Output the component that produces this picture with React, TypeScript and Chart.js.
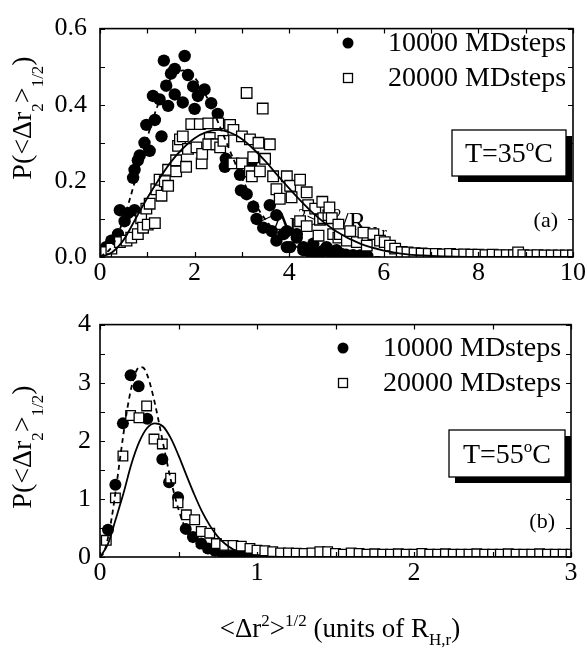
import React, { useEffect, useRef } from "react";
import { Chart, registerables } from "chart.js";

Chart.register(...registerables);

const SERIF = "'Liberation Serif', 'Times New Roman', Times, serif";

// ---------------- Panel (a): T = 35 °C ----------------
const a10000: [number, number][] = [
  [0.06, 0.013], [0.13, 0.026], [0.24, 0.043], [0.38, 0.06], [0.42, 0.123], [0.52, 0.094],
  [0.59, 0.115], [0.73, 0.123], [0.7, 0.208], [0.73, 0.229], [0.8, 0.254], [0.84, 0.267],
  [0.94, 0.3], [0.98, 0.347], [1.05, 0.279], [1.12, 0.423], [1.16, 0.36], [1.26, 0.414],
  [1.3, 0.317], [1.35, 0.516], [1.4, 0.45], [1.44, 0.397], [1.5, 0.482], [1.58, 0.494],
  [1.58, 0.427], [1.75, 0.406], [1.79, 0.528], [1.86, 0.478], [1.97, 0.448], [2.0, 0.389],
  [2.07, 0.423], [2.21, 0.44], [2.35, 0.404], [2.49, 0.376], [2.66, 0.258], [2.64, 0.237],
  [2.96, 0.216], [2.98, 0.175], [3.1, 0.165], [3.2, 0.246], [3.24, 0.132], [3.31, 0.1],
  [3.45, 0.077], [3.59, 0.136], [3.73, 0.11], [3.63, 0.068], [3.88, 0.06], [3.95, 0.068],
  [3.73, 0.043], [3.95, 0.026], [4.02, 0.026], [4.16, 0.051], [4.16, 0.06], [4.3, 0.026],
  [4.3, 0.018], [4.51, 0.035], [4.79, 0.026], [5.0, 0.018], [4.45, 0.012], [4.6, 0.01],
  [4.7, 0.015], [4.9, 0.008], [5.1, 0.008], [5.2, 0.006], [5.35, 0.005], [5.5, 0.004],
  [5.65, 0.003],
];

const a20000: [number, number][] = [
  [0.13, 0.013], [0.24, 0.022], [0.42, 0.039], [0.56, 0.043], [0.66, 0.051], [0.8, 0.06],
  [0.87, 0.102], [0.91, 0.077], [1.01, 0.085], [1.16, 0.089], [0.98, 0.127], [1.05, 0.14],
  [1.19, 0.178], [1.3, 0.161], [1.26, 0.203], [1.37, 0.199], [1.44, 0.187], [1.44, 0.229],
  [1.61, 0.225], [1.61, 0.254], [1.82, 0.237], [1.65, 0.292], [1.69, 0.309], [1.75, 0.317],
  [1.86, 0.284], [1.93, 0.349], [2.04, 0.288], [2.11, 0.349], [2.15, 0.246], [2.16, 0.271],
  [2.29, 0.351], [2.32, 0.313], [2.29, 0.296], [2.46, 0.296], [2.5, 0.351], [2.54, 0.288],
  [2.61, 0.305], [2.75, 0.347], [2.82, 0.334], [2.82, 0.246], [3.0, 0.317], [3.0, 0.246],
  [3.1, 0.431], [3.17, 0.309], [3.17, 0.225], [3.24, 0.262], [3.21, 0.212], [3.35, 0.3],
  [3.38, 0.225], [3.44, 0.39], [3.49, 0.258], [3.59, 0.296], [3.66, 0.212], [3.73, 0.178],
  [3.8, 0.153], [3.95, 0.212], [4.02, 0.187], [4.05, 0.157], [4.23, 0.203], [4.23, 0.094],
  [4.37, 0.17], [4.37, 0.081], [4.4, 0.136], [4.55, 0.127], [4.62, 0.056], [4.65, 0.098],
  [4.7, 0.145], [4.72, 0.102], [4.83, 0.11], [4.85, 0.13], [4.9, 0.102], [4.93, 0.06],
  [5.04, 0.085], [5.04, 0.051], [5.07, 0.06], [5.22, 0.043], [5.29, 0.068], [5.43, 0.039],
  [5.57, 0.064], [5.64, 0.03], [5.78, 0.06], [5.92, 0.043], [6.02, 0.039], [6.13, 0.03],
  [6.24, 0.022], [6.38, 0.013], [6.5, 0.012], [6.65, 0.01], [6.8, 0.009], [6.95, 0.008],
  [7.1, 0.008], [7.25, 0.007], [7.4, 0.008], [7.55, 0.006], [7.7, 0.007], [7.85, 0.006],
  [8.0, 0.006], [8.15, 0.005], [8.3, 0.006], [8.45, 0.005], [8.6, 0.005], [8.75, 0.005],
  [8.84, 0.012], [8.95, 0.005], [9.1, 0.004], [9.25, 0.005], [9.4, 0.004], [9.55, 0.004],
  [9.7, 0.004], [9.85, 0.004], [10.0, 0.004],
];

const aFitDashed: [number, number][] = [
  [0, 0], [0.25, 0.027], [0.5, 0.1], [0.75, 0.204], [1.0, 0.314], [1.25, 0.408], [1.5, 0.469],
  [1.75, 0.49], [2.0, 0.471], [2.25, 0.422], [2.5, 0.353], [2.75, 0.278], [3.0, 0.207],
  [3.25, 0.146], [3.5, 0.098], [3.75, 0.062], [4.0, 0.037], [4.5, 0.012], [5.0, 0.003],
  [5.5, 0.0007], [6.0, 0],
];

const aFitSolid: [number, number][] = [
  [0, 0], [0.25, 0.012], [0.5, 0.045], [0.75, 0.1], [1.0, 0.155], [1.25, 0.205], [1.5, 0.25],
  [1.75, 0.285], [2.0, 0.312], [2.25, 0.328], [2.5, 0.334], [2.75, 0.327], [3.0, 0.31],
  [3.25, 0.283], [3.5, 0.251], [3.75, 0.215], [4.0, 0.18], [4.5, 0.116], [5.0, 0.067],
  [5.5, 0.035], [6.0, 0.017], [6.5, 0.007], [7.0, 0.003], [8.0, 0], [10.0, 0],
];

const aXTickLabels = [0, 2, 4, 6, 8, 10];
const aYTickLabels = [0.0, 0.2, 0.4, 0.6];

// ---------------- Panel (b): T = 55 °C ----------------
const b10000: [number, number][] = [
  [0.051, 0.467], [0.098, 1.244], [0.146, 2.3], [0.195, 3.128], [0.246, 2.94], [0.301, 2.38],
  [0.397, 1.683], [0.44, 1.288], [0.497, 1.03], [0.546, 0.484], [0.592, 0.343], [0.645, 0.231],
  [0.688, 0.147], [0.73, 0.118], [0.77, 0.09], [0.81, 0.07], [0.85, 0.05], [0.9, 0.04],
  [0.95, 0.03], [1.0, 0.02],
];

const b20000: [number, number][] = [
  [0.04, 0.287], [0.098, 1.018], [0.146, 1.738], [0.195, 2.435], [0.248, 2.397], [0.297, 2.6],
  [0.344, 2.03], [0.397, 1.946], [0.45, 1.356], [0.497, 0.934], [0.55, 0.726], [0.603, 0.641],
  [0.645, 0.439], [0.699, 0.41], [0.741, 0.231], [0.794, 0.2], [0.847, 0.2], [0.9, 0.186],
  [0.955, 0.147], [1.0, 0.118], [1.05, 0.107], [1.1, 0.09], [1.15, 0.07], [1.2, 0.07],
  [1.25, 0.065], [1.3, 0.06], [1.35, 0.07], [1.4, 0.09], [1.45, 0.09], [1.5, 0.06],
  [1.55, 0.05], [1.6, 0.07], [1.65, 0.06], [1.7, 0.05], [1.75, 0.055], [1.8, 0.05],
  [1.85, 0.05], [1.9, 0.055], [1.95, 0.05], [2.0, 0.05], [2.05, 0.06], [2.1, 0.05],
  [2.15, 0.05], [2.2, 0.055], [2.25, 0.05], [2.3, 0.05], [2.35, 0.05], [2.4, 0.055],
  [2.45, 0.05], [2.5, 0.05], [2.55, 0.05], [2.6, 0.055], [2.65, 0.05], [2.7, 0.05],
  [2.75, 0.05], [2.8, 0.055], [2.85, 0.05], [2.9, 0.05], [2.95, 0.05], [3.0, 0.05],
];

const bFitDashed: [number, number][] = [
  [0, 0], [0.025, 0.08], [0.05, 0.32], [0.075, 0.68], [0.1, 1.14], [0.125, 1.64], [0.15, 2.13],
  [0.175, 2.57], [0.2, 2.92], [0.225, 3.16], [0.25, 3.27], [0.275, 3.26], [0.3, 3.14],
  [0.325, 2.92], [0.35, 2.64], [0.375, 2.32], [0.4, 1.98], [0.45, 1.34], [0.5, 0.82],
  [0.55, 0.45], [0.6, 0.23], [0.65, 0.11], [0.7, 0.046], [0.75, 0.018], [0.8, 0.006], [0.9, 0],
];

const bFitSolid: [number, number][] = [
  [0, 0], [0.05, 0.22], [0.1, 0.65], [0.15, 1.1], [0.2, 1.6], [0.25, 1.98], [0.3, 2.22],
  [0.35, 2.3], [0.4, 2.25], [0.45, 2.05], [0.5, 1.75], [0.55, 1.41], [0.6, 1.08], [0.65, 0.78],
  [0.7, 0.54], [0.75, 0.35], [0.8, 0.22], [0.85, 0.13], [0.9, 0.075], [1.0, 0.02], [1.1, 0.005],
  [1.2, 0.001], [3.0, 0],
];

const bXTickLabels = [0, 1, 2, 3];
const bYTickLabels = [0, 1, 2, 3, 4];

const LEGEND_1 = "10000 MDsteps";
const LEGEND_2 = "20000 MDsteps";

// ---------------- rich text helpers ----------------
type Seg = { t: string; k?: "sup" | "sub" };

const segFont = (size: number, k?: string) =>
  `${k ? Math.round(size * 0.62) : size}px ${SERIF}`;

function segsWidth(ctx: CanvasRenderingContext2D, segs: Seg[], size: number) {
  let w = 0;
  for (const s of segs) {
    ctx.font = segFont(size, s.k);
    w += ctx.measureText(s.t).width;
  }
  return w;
}

function drawSegs(
  ctx: CanvasRenderingContext2D,
  segs: Seg[],
  x: number,
  y: number,
  size: number,
  supDy = -0.4,
  subDy = 0.3
) {
  ctx.textAlign = "left";
  ctx.textBaseline = "alphabetic";
  let cx = x;
  for (const s of segs) {
    ctx.font = segFont(size, s.k);
    const dy = s.k === "sup" ? supDy * size : s.k === "sub" ? subDy * size : 0;
    ctx.fillText(s.t, cx, y + dy);
    cx += ctx.measureText(s.t).width;
  }
}

const Y_TITLE: Seg[] = [
  { t: "P(<Δr" }, { t: "2", k: "sup" }, { t: ">" }, { t: "1/2", k: "sup" }, { t: ")" },
];
const X_TITLE: Seg[] = [
  { t: "<Δr" }, { t: "2", k: "sup" }, { t: ">" }, { t: "1/2", k: "sup" },
  { t: " (units of R" }, { t: "H,r", k: "sub" }, { t: ")" },
];
const HIDDEN_LABEL_PRE: Seg[] = [{ t: "<Δr" }, { t: "2", k: "sup" }, { t: ">" }];
const HIDDEN_LABEL_POST: Seg[] = [{ t: "1/2", k: "sup" }, { t: "/R" }, { t: "H,r", k: "sub" }];

type PanelCfg = {
  height: number;
  padRight: number;
  xAxisH: number;
  xMax: number;
  xStep: number;
  yMax: number;
  yStep: number;
  xLabels: number[];
  yLabels: number[];
  yDigits: number;
  xTickPad: number;
  yTickPad: number;
  circles: [number, number][];
  squares: [number, number][];
  dashed: [number, number][];
  solid: [number, number][];
  circleR: number;
  squareR: number;
  legend: { mx: number; y1: number; y2: number; tx: number };
  box: { x: number; y: number; w: number; h: number; temp: string };
  letter: { t: string; x: number; y: number };
  yTitle: { x: number; y: number };
  xTitle?: { x: number; y: number };
  hidden?: { x: number; y: number };
};

function makeDecor(p: PanelCfg) {
  return {
    id: "decor",
    beforeDatasetsDraw(chart: any) {
      if (!p.hidden) return;
      const ctx: CanvasRenderingContext2D = chart.ctx;
      ctx.save();
      ctx.fillStyle = "#000";
      const pre = segsWidth(ctx, HIDDEN_LABEL_PRE, 26);
      drawSegs(ctx, HIDDEN_LABEL_PRE, p.hidden.x - pre, p.hidden.y, 26);
      drawSegs(ctx, HIDDEN_LABEL_POST, p.hidden.x, p.hidden.y, 26);
      ctx.restore();
    },
    afterDraw(chart: any) {
      const ctx: CanvasRenderingContext2D = chart.ctx;
      const a = chart.chartArea;
      const xs = chart.scales.x;
      const ys = chart.scales.y;
      ctx.save();
      ctx.strokeStyle = "#000";
      ctx.fillStyle = "#000";
      // ticks (inward, all four sides)
      ctx.lineWidth = 1.2;
      ctx.beginPath();
      for (const t of xs.ticks) {
        const px = Math.round(xs.getPixelForValue(t.value)) + 0.5;
        ctx.moveTo(px, a.bottom);
        ctx.lineTo(px, a.bottom - 5);
        ctx.moveTo(px, a.top);
        ctx.lineTo(px, a.top + 5);
      }
      for (const t of ys.ticks) {
        const py = Math.round(ys.getPixelForValue(t.value)) + 0.5;
        ctx.moveTo(a.left, py);
        ctx.lineTo(a.left + 5, py);
        ctx.moveTo(a.right, py);
        ctx.lineTo(a.right - 5, py);
      }
      ctx.stroke();
      // frame
      ctx.lineWidth = 1.6;
      ctx.strokeRect(a.left, a.top, a.right - a.left, a.bottom - a.top);

      // legend
      const L = p.legend;
      ctx.beginPath();
      ctx.arc(L.mx, L.y1, 5.5, 0, Math.PI * 2);
      ctx.fill();
      ctx.fillStyle = "#fff";
      ctx.lineWidth = 1.3;
      ctx.fillRect(L.mx - 4.5, L.y2 - 4.5, 9, 9);
      ctx.strokeRect(L.mx - 4.5, L.y2 - 4.5, 9, 9);
      ctx.fillStyle = "#000";
      ctx.font = `28px ${SERIF}`;
      ctx.textAlign = "left";
      ctx.textBaseline = "middle";
      ctx.fillText(LEGEND_1, L.tx, L.y1 + 1);
      ctx.fillText(LEGEND_2, L.tx, L.y2 + 1);

      // temperature box with shadow
      const B = p.box;
      ctx.fillStyle = "#000";
      ctx.fillRect(B.x + 6, B.y + 6, B.w, B.h);
      ctx.fillStyle = "#fff";
      ctx.fillRect(B.x, B.y, B.w, B.h);
      ctx.lineWidth = 1.3;
      ctx.strokeRect(B.x, B.y, B.w, B.h);
      ctx.fillStyle = "#000";
      const tSegs: Seg[] = [{ t: "T=" + B.temp }, { t: "o", k: "sup" }, { t: "C" }];
      const tw = segsWidth(ctx, tSegs, 28);
      drawSegs(ctx, tSegs, B.x + (B.w - tw) / 2, B.y + B.h / 2 + 9, 28, -0.38);

      // panel letter
      ctx.font = `22px ${SERIF}`;
      ctx.textAlign = "right";
      ctx.textBaseline = "middle";
      ctx.fillText(p.letter.t, p.letter.x, p.letter.y);

      // y title (rotated)
      ctx.save();
      ctx.translate(p.yTitle.x, p.yTitle.y);
      ctx.rotate(-Math.PI / 2);
      const yw = segsWidth(ctx, Y_TITLE, 28);
      drawSegs(ctx, Y_TITLE, -yw / 2, 9, 28, 0.42);
      ctx.restore();

      // x title
      if (p.xTitle) {
        const xw = segsWidth(ctx, X_TITLE, 27);
        drawSegs(ctx, X_TITLE, p.xTitle.x - xw / 2, p.xTitle.y, 27, -0.4, 0.3);
      }
      ctx.restore();
    },
  };
}

function Panel({ cfg }: { cfg: PanelCfg }) {
  const ref = useRef<HTMLCanvasElement | null>(null);
  useEffect(() => {
    if (!ref.current) return;
    const has = (arr: number[], v: number) => arr.some((a) => Math.abs(a - v) < 1e-6);
    const chart = new Chart(ref.current, {
      type: "scatter",
      data: {
        datasets: [
          {
            data: cfg.solid.map(([x, y]) => ({ x, y })),
            showLine: true,
            borderColor: "#000",
            borderWidth: 1.8,
            pointRadius: 0,
            tension: 0.4,
            cubicInterpolationMode: "monotone",
          } as any,
          {
            data: cfg.dashed.map(([x, y]) => ({ x, y })),
            showLine: true,
            borderColor: "#000",
            borderWidth: 1.8,
            borderDash: [5, 4],
            pointRadius: 0,
            tension: 0.4,
            cubicInterpolationMode: "monotone",
          } as any,
          {
            data: cfg.squares.map(([x, y]) => ({ x, y })),
            pointStyle: "rect",
            pointRadius: cfg.squareR,
            backgroundColor: "#fff",
            borderColor: "#000",
            borderWidth: 1.3,
            showLine: false,
          },
          {
            data: cfg.circles.map(([x, y]) => ({ x, y })),
            pointStyle: "circle",
            pointRadius: cfg.circleR,
            backgroundColor: "#000",
            borderColor: "#000",
            borderWidth: 0,
            showLine: false,
          },
        ],
      },
      options: {
        responsive: false,
        maintainAspectRatio: false,
        animation: false,
        devicePixelRatio: 1,
        events: [],
        layout: { padding: { left: 0, right: cfg.padRight, top: 20, bottom: 0 } },
        plugins: { legend: { display: false }, tooltip: { enabled: false } },
        scales: {
          x: {
            type: "linear",
            min: 0,
            max: cfg.xMax,
            grid: { display: false, drawTicks: false },
            border: { display: false },
            ticks: {
              stepSize: cfg.xStep,
              autoSkip: false,
              maxRotation: 0,
              padding: cfg.xTickPad,
              color: "#000",
              font: { family: SERIF, size: 26 },
              callback: (v: any) => (has(cfg.xLabels, Number(v)) ? String(Number(v)) : ""),
            },
            afterFit: (s: any) => {
              s.height = cfg.xAxisH;
            },
          },
          y: {
            type: "linear",
            min: 0,
            max: cfg.yMax,
            grid: { display: false, drawTicks: false },
            border: { display: false },
            ticks: {
              stepSize: cfg.yStep,
              autoSkip: false,
              padding: cfg.yTickPad,
              color: "#000",
              font: { family: SERIF, size: 26 },
              callback: (v: any) =>
                has(cfg.yLabels, Number(v)) ? Number(v).toFixed(cfg.yDigits) : "",
            },
            afterFit: (s: any) => {
              s.width = 100;
            },
          },
        },
      },
      plugins: [makeDecor(cfg)],
    } as any);
    return () => chart.destroy();
  }, [cfg]);
  return (
    <canvas
      ref={ref}
      width={587}
      height={cfg.height}
      style={{ display: "block", width: 587, height: cfg.height }}
    />
  );
}

const panelA: PanelCfg = {
  height: 300,
  padRight: 14,
  xAxisH: 43,
  xMax: 10,
  xStep: 1,
  yMax: 0.6,
  yStep: 0.1,
  xLabels: aXTickLabels,
  yLabels: aYTickLabels,
  yDigits: 1,
  xTickPad: 1,
  yTickPad: 13,
  circles: a10000,
  squares: a20000,
  dashed: aFitDashed,
  solid: aFitSolid,
  circleR: 6.2,
  squareR: 7.5,
  legend: { mx: 348, y1: 43, y2: 78, tx: 388 },
  box: { x: 452, y: 130, w: 114, h: 46, temp: "35" },
  letter: { t: "(a)", x: 558, y: 221 },
  yTitle: { x: 22, y: 118 },
  hidden: { x: 321, y: 230 },
};

const panelB: PanelCfg = {
  height: 348,
  padRight: 16,
  xAxisH: 91,
  xMax: 3,
  xStep: 0.5,
  yMax: 4,
  yStep: 0.5,
  xLabels: bXTickLabels,
  yLabels: bYTickLabels,
  yDigits: 0,
  xTickPad: 1,
  yTickPad: 9,
  circles: b10000,
  squares: b20000,
  dashed: bFitDashed,
  solid: bFitSolid,
  circleR: 6,
  squareR: 6.8,
  legend: { mx: 343, y1: 48, y2: 83, tx: 383 },
  box: { x: 449, y: 130, w: 116, h: 47, temp: "55" },
  letter: { t: "(b)", x: 555, y: 222 },
  yTitle: { x: 22, y: 147 },
  xTitle: { x: 340, y: 337 },
};

export default function App() {
  return (
    <div
      style={{
        position: "absolute",
        left: 0,
        top: 0,
        width: 587,
        height: 648,
        background: "#fff",
        overflow: "hidden",
      }}
    >
      <Panel cfg={panelA} />
      <Panel cfg={panelB} />
    </div>
  );
}
